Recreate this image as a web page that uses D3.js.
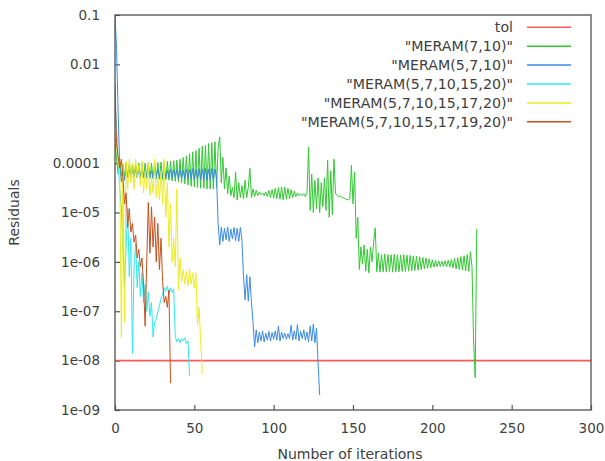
<!DOCTYPE html>
<html>
<head>
<meta charset="utf-8">
<script src="https://cdn.jsdelivr.net/npm/d3@7"></script>
<style>
  html, body { margin: 0; padding: 0; background: #fff; }
  svg { display: block; font-family: "DejaVu Sans", sans-serif; }
</style>
</head>
<body>
<svg id="chart" width="605" height="461"></svg>
<script>
// ---------------- DATA (residual per iteration; index = iteration number) ----------------
const seriesNames = ["tol", "\"MERAM(7,10)\"", "\"MERAM(5,7,10)\"", "\"MERAM(5,7,10,15,20)\"", "\"MERAM(5,7,10,15,17,20)\"", "\"MERAM(5,7,10,15,17,19,20)\""];
const seriesColors = ["#f25c5c", "#30c830", "#3a8ae6", "#30e8ec", "#ecec20", "#c8501e"];

const tolValue = 1e-8;
const tolIterations = [0, 300];

const meram_7_10 = [
  3e-4,1.2e-4,6e-5,
  1.0e-4,5.5e-5,9.5e-5,5.5e-5,1.0e-4,5.2e-5,9.5e-5,5.5e-5,1.0e-4,5.2e-5,9.8e-5,5.3e-5,1.0e-4,5.0e-5,1.0e-4,5.2e-5,1.0e-4,5.0e-5,
  1.02e-4,4.9e-5,1.0e-4,4.8e-5,1.05e-4,4.8e-5,1.03e-4,4.7e-5,1.05e-4,4.7e-5,1.07e-4,4.6e-5,1.08e-4,4.5e-5,1.1e-4,4.4e-5,1.12e-4,4.3e-5,1.15e-4,4.2e-5,
  1.2e-4,4.0e-5,1.3e-4,3.8e-5,1.4e-4,3.6e-5,1.55e-4,3.4e-5,1.7e-4,3.3e-5,1.8e-4,3.2e-5,2.0e-4,3.1e-5,2.2e-4,3.1e-5,2.3e-4,3.0e-5,2.5e-4,3.0e-5,2.6e-4,3.0e-5,2.7e-4,3.2e-5,2.0e-4,3.4e-4,4.0e-5,
  1.3e-4,3.0e-5,8e-5,2.4e-5,5.5e-5,2.2e-5,3.2e-5,2.0e-5,6.6e-5,1.8e-5,4.0e-5,2.0e-5,3.5e-5,1.9e-5,4.5e-5,2.0e-5,3.2e-5,7.9e-5,2.0e-5,
  3.0e-5,2.1e-5,2.8e-5,2.2e-5,2.6e-5,2.3e-5,2.5e-5,2.2e-5,2.6e-5,2.1e-5,2.8e-5,2.0e-5,2.9e-5,1.95e-5,3.1e-5,1.9e-5,3.2e-5,1.85e-5,3.3e-5,1.8e-5,
  3.3e-5,1.85e-5,3.1e-5,1.9e-5,2.9e-5,2.0e-5,2.7e-5,2.1e-5,2.5e-5,2.2e-5,2.4e-5,2.2e-5,2.4e-5,2.1e-5,2.5e-5,
  2.1e-4,1.1e-5,6e-5,1.0e-5,4.5e-5,1.2e-5,5e-5,1.0e-5,4e-5,1.3e-5,5e-5,1.1e-5,1.15e-4,8e-6,7e-5,9e-6,1.2e-4,2.4e-5,
  2.2e-5,2.1e-5,2.15e-5,2.0e-5,2.0e-5,1.9e-5,1.85e-5,1.8e-5,1.9e-5,9e-5,1.5e-5,6.5e-5,3e-6,8e-6,7e-7,2e-6,9e-7,2.2e-6,6.5e-7,1.8e-6,6e-7,2e-6,1e-6,2.5e-6,4.9e-6,6.3e-7,
  1.5e-6,6.2e-7,1.4e-6,6.3e-7,1.45e-6,6.2e-7,1.4e-6,6.4e-7,1.4e-6,6.2e-7,1.42e-6,6.3e-7,1.4e-6,6.3e-7,1.38e-6,6.4e-7,1.4e-6,6.4e-7,1.36e-6,6.5e-7,
  1.35e-6,6.6e-7,1.32e-6,6.7e-7,1.3e-6,6.8e-7,1.27e-6,7e-7,1.23e-6,7.2e-7,1.2e-6,7.4e-7,1.15e-6,7.6e-7,1.1e-6,7.8e-7,1.07e-6,8e-7,1.05e-6,8.1e-7,
  1.03e-6,8.1e-7,1.05e-6,8e-7,1.08e-6,7.8e-7,1.12e-6,7.5e-7,1.17e-6,7.2e-7,1.22e-6,7e-7,1.28e-6,6.8e-7,1.33e-6,6.6e-7,1.4e-6,6.4e-7,1.6e-6,8e-7,
  2.5e-8,4.5e-9,4.7e-6
];

const meram_5_7_10 = [
  1e-1,2e-2,1e-3,8e-5,4.2e-5,7.5e-5,4.5e-5,7e-5,5e-5,7.5e-5,5e-5,
  7.2e-5,5.2e-5,7.5e-5,5e-5,7e-5,5.3e-5,7.4e-5,5e-5,7.2e-5,5.1e-5,7.5e-5,5.2e-5,7e-5,5e-5,7.3e-5,5.3e-5,7.5e-5,5e-5,7.2e-5,5.2e-5,
  7.4e-5,5e-5,7.1e-5,5.1e-5,7.5e-5,5e-5,7.3e-5,5.2e-5,7.4e-5,4.9e-5,7.5e-5,5e-5,7.2e-5,4.8e-5,7.6e-5,5e-5,7.4e-5,4.8e-5,7.7e-5,4.7e-5,
  7.5e-5,4.8e-5,7.8e-5,4.6e-5,7.6e-5,4.7e-5,7.8e-5,4.5e-5,7.5e-5,4.6e-5,7.8e-5,4.5e-5,7.6e-5,5e-5,
  6e-6,2.2e-6,5e-6,2.6e-6,4.8e-6,2.8e-6,5.1e-6,2.6e-6,4.6e-6,2.9e-6,5e-6,2.7e-6,4.8e-6,2.6e-6,5e-6,2.7e-6,
  5e-7,1.7e-7,5.5e-7,1.6e-7,5e-7,1.5e-7,6e-8,1.9e-8,
  4.2e-8,2.3e-8,3.8e-8,2.5e-8,4e-8,2.4e-8,3.6e-8,2.6e-8,3.9e-8,2.5e-8,3.7e-8,2.7e-8,4e-8,2.6e-8,5e-8,2.5e-8,3.8e-8,2.8e-8,3.6e-8,2.7e-8,
  3.5e-8,2.8e-8,5.2e-8,2.6e-8,4e-8,2.7e-8,5.4e-8,2.5e-8,3.9e-8,2.8e-8,4.2e-8,2.6e-8,3.8e-8,2.4e-8,5e-8,2.5e-8,5.5e-8,2.3e-8,4.5e-8,
  9e-9,2e-9
];

const meram_5_7_10_15_20 = [
  2e-3,5e-4,1e-4,3e-5,1.2e-5,2e-6,3e-7,2e-6,1.2e-5,5e-7,3e-6,1.4e-8,8e-7,2.4e-6,3e-7,1e-6,2e-7,6e-7,1.5e-7,3.5e-7,
  1e-7,2.5e-7,8e-8,1.5e-7,3e-8,6e-8,7e-8,1e-7,1.3e-7,1.8e-7,2.2e-7,3e-7,2.5e-7,3.2e-7,2.2e-7,3e-7,2.4e-7,2.8e-7,
  3e-8,2.4e-8,2.8e-8,2.3e-8,2.8e-8,2.5e-8,2.9e-8,2.2e-8,2.5e-8,5e-9
];

const meram_5_7_10_15_17_20 = [
  4e-4,2e-4,1.2e-4,6e-5,3e-8,1e-4,6e-8,1.1e-4,3e-5,1.2e-4,4e-5,1e-4,3e-5,1.2e-4,5e-5,9e-5,3.5e-5,1.1e-4,2.5e-5,7e-5,
  3e-5,1e-4,2.2e-5,5e-5,2.5e-5,1.2e-4,2e-5,5e-5,1.8e-5,7e-5,1.5e-5,1.2e-4,8e-6,4e-5,2e-6,1.5e-5,1e-6,3e-6,8e-7,3e-5,
  2.7e-7,1.2e-6,4e-7,7e-7,3.5e-7,6.5e-7,3.3e-7,7e-7,3.5e-7,6e-7,3e-7,6e-7,5e-8,1.2e-7,2.5e-8,5.5e-9
];

const meram_5_7_10_15_17_19_20 = [
  4e-3,2.5e-4,1.3e-4,8e-5,1.2e-4,5e-5,1.5e-5,2.5e-5,5e-6,1.2e-5,4e-6,6e-6,2.5e-6,3.5e-6,1.2e-6,1.8e-6,8e-7,1.2e-6,3.5e-7,5e-8,
  1e-6,1.6e-5,1.5e-6,1.3e-5,2e-6,8e-6,1e-6,6e-6,7e-7,3e-6,4e-7,1.5e-7,2e-7,1.2e-7,2.7e-7,3.5e-9
];

const xTicks = [0, 50, 100, 150, 200, 250, 300];
const yTicks = [1e-1, 1e-2, 1e-4, 1e-5, 1e-6, 1e-7, 1e-8, 1e-9];
const yTickLabels = ["0.1", "0.01", "0.0001", "1e-05", "1e-06", "1e-07", "1e-08", "1e-09"];
const xTitle = "Number of iterations";
const yTitle = "Residuals";

// ---------------- CHART ----------------
const svg = d3.select("#chart");
const L = 115, R = 591, T = 15, B = 410;
const textColor = "#404040";

const x = d3.scaleLinear().domain([0, 300]).range([L, R]);
const y = d3.scaleLog().domain([1e-9, 1e-1]).range([B, T]);

svg.append("defs").append("clipPath").attr("id", "plotclip")
  .append("rect").attr("x", L).attr("y", T).attr("width", R - L).attr("height", B - T);

// axes
const yAxis = d3.axisLeft(y).tickValues(yTicks).tickFormat((d, i) => yTickLabels[i])
  .tickSizeInner(-5).tickSizeOuter(0).tickPadding(15);
const gy = svg.append("g").attr("transform", `translate(${L},0)`).call(yAxis);
const xAxis = d3.axisBottom(x).tickValues(xTicks).tickFormat(d3.format("d"))
  .tickSizeInner(-5).tickSizeOuter(0).tickPadding(13);
const gx = svg.append("g").attr("transform", `translate(0,${B})`).call(xAxis);
[gx, gy].forEach(g => {
  g.select(".domain").remove();
  g.selectAll(".tick line").attr("stroke", "#555").attr("stroke-width", 1.2);
  g.selectAll(".tick text").attr("fill", textColor).style("font-size", "13.5px")
    .style("font-family", "'DejaVu Sans', sans-serif");
});

// titles
svg.append("text").attr("x", (L + R) / 2 - 3).attr("y", 459).attr("text-anchor", "middle")
  .attr("fill", textColor).style("font-size", "14px").text(xTitle);
svg.append("text").attr("transform", `translate(19,${(T + B) / 2}) rotate(-90)`)
  .attr("text-anchor", "middle").attr("fill", textColor).style("font-size", "14px").text(yTitle);

// series
const plot = svg.append("g").attr("clip-path", "url(#plotclip)");
const line = d3.line().x((d, i) => x(i)).y(d => y(d));
const series = [meram_7_10, meram_5_7_10, meram_5_7_10_15_20, meram_5_7_10_15_17_20, meram_5_7_10_15_17_19_20];

plot.append("path")
  .attr("d", d3.line().x(d => x(d)).y(() => y(tolValue))(tolIterations))
  .attr("fill", "none").attr("stroke", seriesColors[0]).attr("stroke-width", 1.6);

series.forEach((s, k) => {
  plot.append("path").attr("d", line(s)).attr("fill", "none")
    .attr("stroke", seriesColors[k + 1]).attr("stroke-width", 1).attr("stroke-linejoin", "round");
});

// frame
svg.append("rect").attr("x", L).attr("y", T).attr("width", R - L).attr("height", B - T)
  .attr("fill", "none").attr("stroke", "#505050").attr("stroke-width", 1.3);

// legend
const lg = svg.append("g");
seriesNames.forEach((name, i) => {
  const cy = 27.3 + i * 18.9;
  lg.append("text").attr("x", 513).attr("y", cy).attr("dy", "0.35em").attr("text-anchor", "end")
    .attr("fill", textColor).style("font-size", "14.2px").text(name);
  lg.append("line").attr("x1", 527).attr("x2", 571).attr("y1", cy).attr("y2", cy)
    .attr("stroke", seriesColors[i]).attr("stroke-width", 1.5);
});
</script>
</body>
</html>
